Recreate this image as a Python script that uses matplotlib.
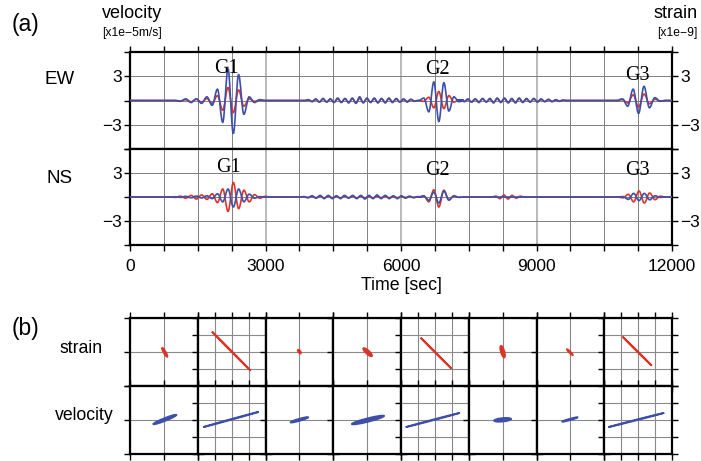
import numpy as np
import matplotlib
matplotlib.use('Agg')
import matplotlib.pyplot as plt
from matplotlib.path import Path
from matplotlib.patches import PathPatch, Ellipse
from matplotlib.ticker import MultipleLocator, FixedLocator

# ---------------- data ----------------
time_ticks = [0, 3000, 6000, 9000, 12000]
time_labels = ['0', '3000', '6000', '9000', '12000']
amp_ticks = [-6, -3, 0, 3, 6]
amp_labels = ['', '\u22123', '', '3', '']

# wave packets: (first extremum time [s], half period [s], successive extremum values)
ew_velocity = [
    (1117, 117, [-0.1, 0.2, -0.25, 0.2, -0.35, 0.45, -0.6, 1.4, -2.7, 3.9, -4.1, 3.2, -1.7, 0.45, -0.25, 0.1]),
    (3950, 81, [0.1, -0.15, 0.2, -0.2, 0.25, -0.2, 0.2, -0.25, 0.3, -0.25, 0.25, -0.3, 0.3, -0.35, 0.45,
                -0.3, 0.3, -0.25, 0.3, -0.3, 0.25, -0.3, 0.3, -0.25, 0.25, -0.2, 0.2, -0.2, 0.15, -0.1]),
    (6505, 111, [0.3, -1.4, 2.3, -2.6, 2.2, -1.3, 0.45, -0.15]),
    (7320, 81, [0.1, -0.15, 0.2, -0.2, 0.2, -0.25, 0.25, -0.2, 0.25, -0.3, 0.3, -0.25, 0.3, -0.3, 0.25,
                -0.3, 0.3, -0.25, 0.25, -0.2, 0.25, -0.2, 0.2, -0.15, 0.15, -0.15, 0.1, -0.1, 0.05]),
    (10900, 120, [0.2, -0.7, 1.4, -1.6, 1.75, -0.9, 0.35, -0.1]),
]
ew_strain = [
    (1117, 117, [-0.05, 0.1, -0.15, 0.15, -0.2, 0.25, -0.35, 0.6, -1.2, 1.6, -1.5, 1.3, -0.7, 0.2, -0.1, 0.05]),
    (3950, 81, [0.05, -0.1, 0.1, -0.15, 0.15, -0.15, 0.15, -0.2, 0.2, -0.2, 0.2, -0.2, 0.2, -0.25, 0.25,
                -0.2, 0.2, -0.2, 0.2, -0.2, 0.2, -0.2, 0.2, -0.15, 0.15, -0.15, 0.1, -0.1, 0.1, -0.05]),
    (6505, 111, [-0.1, 0.4, -0.9, 1.1, -1.0, 0.6, -0.2, 0.05]),
    (7320, 81, [0.05, -0.1, 0.1, -0.15, 0.15, -0.15, 0.2, -0.15, 0.15, -0.2, 0.2, -0.15, 0.2, -0.2, 0.15,
                -0.2, 0.2, -0.15, 0.15, -0.15, 0.15, -0.1, 0.1, -0.1, 0.1, -0.1, 0.05, -0.05, 0.03]),
    (10900, 120, [0.1, -0.3, 0.7, -0.8, 0.8, -0.4, 0.15, -0.05]),
]
ns_velocity = [
    (1001, 117, [0.03, -0.05, 0.08, -0.1, 0.12, -0.12, 0.15, -0.2, 0.4, -0.6, 1.0, -1.25, 1.0, -0.6, 0.35,
                 -0.15, 0.05, -0.02]),
    (3850, 90, [0.05, -0.1, 0.15, -0.15, 0.2, -0.2, 0.2, -0.2, 0.15, -0.2, 0.2, -0.15, 0.2, -0.2, 0.2,
                -0.25, 0.2, -0.2, 0.25, -0.2, 0.2, -0.2, 0.15, -0.2, 0.15, -0.15, 0.1, -0.1, 0.05]),
    (6505, 111, [0.1, -0.4, 0.6, -0.75, 0.75, -0.35, 0.1, -0.03]),
    (10915, 118, [0.05, -0.3, 0.45, -0.45, 0.45, -0.35, 0.15, -0.05]),
]
ns_strain = [
    (1001, 117, [-0.05, 0.1, -0.15, 0.2, -0.25, 0.25, -0.3, 0.4, -0.7, 1.0, -1.8, 1.8, -1.45, 0.85, -0.6,
                 0.3, -0.15, 0.08]),
    (3850, 90, [0.03, -0.05, 0.05, -0.08, 0.08, -0.1, 0.1, -0.08, 0.08, -0.1, 0.1, -0.08, 0.1, -0.1, 0.1,
                -0.1, 0.08, -0.1, 0.1, -0.08, 0.08, -0.08, 0.05, -0.08, 0.05, -0.05, 0.05, -0.03, 0.02]),
    (6505, 111, [0.15, -0.6, 0.9, -1.25, 0.85, -0.4, 0.15, -0.05]),
    (8100, 90, [0.1, -0.2, 0.25, -0.25, 0.2, -0.15, 0.1]),
    (10915, 118, [-0.1, 0.33, -0.6, 0.75, -0.75, 0.5, -0.33, 0.1]),
]

# phase labels: (name, time, amplitude)
ew_phase_labels = [('G1', 2125, 3.95), ('G2', 6800, 3.85), ('G3', 11240, 3.15)]
ns_phase_labels = [('G1', 2190, 3.7), ('G2', 6810, 3.3), ('G3', 11240, 3.3)]

# particle motions (b): major axis end points (x0, y0, x1, y1) and half-width
strain_pm = [
    (-0.05, 0.12, 0.10, -0.14, 0.03),
    (-0.58, 0.60, 0.56, -0.55, 0.01),
    (-0.04, 0.06, 0.04, -0.04, 0.03),
    (-0.11, 0.11, 0.14, -0.12, 0.05),
    (-0.42, 0.42, 0.49, -0.49, 0.01),
    (-0.05, 0.18, 0.05, -0.16, 0.05),
    (-0.10, 0.08, 0.07, -0.09, 0.02),
    (-0.46, 0.45, 0.40, -0.40, 0.01),
]
velocity_pm = [
    (-0.31, -0.12, 0.37, 0.15, 0.04),
    (-0.84, -0.21, 0.80, 0.24, 0.01),
    (-0.26, -0.07, 0.26, 0.08, 0.03),
    (-0.45, -0.12, 0.50, 0.12, 0.05),
    (-0.86, -0.21, 0.74, 0.21, 0.01),
    (-0.25, -0.02, 0.25, 0.03, 0.05),
    (-0.25, -0.05, 0.22, 0.08, 0.02),
    (-0.88, -0.21, 0.77, 0.21, 0.01),
]

# ---------------- style ----------------
RED = '#dc3527'
BLUE = '#3d4faa'
SANS = 'Liberation Sans'
SERIF = 'Liberation Serif'
W, H = 701, 461

plt.rcParams['font.family'] = [SANS, 'DejaVu Sans']

fig = plt.figure(figsize=(W / 100, H / 100), dpi=100)


def rect(x0, y0, x1, y1):
    return [x0 / W, 1 - y1 / H, (x1 - x0) / W, (y1 - y0) / H]


def trace_path(packets, t0=0, t1=12000):
    knots = [(t0, 0.0)]
    for start, hp, vals in packets:
        knots.append((start - hp, 0.0))
        for i, v in enumerate(vals):
            knots.append((start + i * hp, v))
        knots.append((start + len(vals) * hp, 0.0))
    knots.append((t1, 0.0))
    verts = [knots[0]]
    codes = [Path.MOVETO]
    for (xa, ya), (xb, yb) in zip(knots[:-1], knots[1:]):
        d = (xb - xa) * 0.36
        verts += [(xa + d, ya), (xb - d, yb), (xb, yb)]
        codes += [Path.CURVE4] * 3
    return Path(verts, codes)


def setup_wave_axes(ax, top, bottom):
    ax.set_xlim(0, 12000)
    ax.set_ylim(-6, 6)
    ax.xaxis.set_major_locator(FixedLocator(time_ticks))
    ax.xaxis.set_minor_locator(MultipleLocator(750))
    ax.set_yticks(amp_ticks)
    ax.set_yticklabels(amp_labels)
    ax.xaxis.grid(True, which='major', color='#b4b4b4', lw=1.3)
    ax.xaxis.grid(True, which='minor', color='#6e6e6e', lw=0.6)
    ax.yaxis.grid(True, which='major', color='#808080', lw=0.7)
    ax.set_axisbelow(True)
    ax.tick_params(axis='x', which='both', direction='out', length=4, width=1.0,
                   top=top, bottom=bottom, labelbottom=bottom, labelsize=12.5, pad=6)
    ax.tick_params(axis='y', direction='out', length=4, width=1.0, left=True, right=True,
                   labelleft=True, labelright=True, labelsize=12.5, pad=2)
    for s in ax.spines.values():
        s.set_linewidth(1.6)
    if bottom:
        ax.set_xticklabels(time_labels)


ax_ew = fig.add_axes(rect(130, 52, 672, 149))
ax_ns = fig.add_axes(rect(130, 149, 672, 245))
setup_wave_axes(ax_ew, True, False)
setup_wave_axes(ax_ns, False, True)

for ax, s_pk, v_pk, labels in [(ax_ew, ew_strain, ew_velocity, ew_phase_labels),
                               (ax_ns, ns_strain, ns_velocity, ns_phase_labels)]:
    ax.add_patch(PathPatch(trace_path(s_pk), fill=False, edgecolor=RED, lw=1.2, zorder=3))
    ax.add_patch(PathPatch(trace_path(v_pk), fill=False, edgecolor=BLUE, lw=1.2, zorder=4))
    for name, t, a in labels:
        ax.text(t, a, name, family=SERIF, fontsize=14.5, ha='center', va='center', zorder=5)

# text of panel (a)
def ftext(px, py, s, **kw):
    fig.text(px / W, 1 - py / H, s, **kw)

ftext(12, 25, '(a)', fontsize=16.5, va='center', ha='left')
ftext(102, 14, 'velocity', fontsize=13, va='center', ha='left')
ftext(102, 33, '[x1e\u22125m/s]', fontsize=8.7, va='center', ha='left')
ftext(698, 14, 'strain', fontsize=13, va='center', ha='right')
ftext(698, 33, '[x1e\u22129]', fontsize=8.7, va='center', ha='right')
ftext(45, 80, 'EW', fontsize=13.5, va='center', ha='left')
ftext(46, 178, 'NS', fontsize=13.5, va='center', ha='left')
ftext(401, 285, 'Time [sec]', fontsize=12.8, va='center', ha='center')

# ---------------- panel (b) ----------------
col_edges = np.linspace(130, 672, 9)
row_edges = [318, 386, 454]
fine_cols = [1, 4, 7]

for r, (pm, color) in enumerate([(strain_pm, RED), (velocity_pm, BLUE)]):
    for c in range(8):
        ax = fig.add_axes(rect(col_edges[c], row_edges[r], col_edges[c + 1], row_edges[r + 1]))
        ax.set_xlim(-1, 1)
        ax.set_ylim(-1, 1)
        ticks = [-1, -0.5, 0, 0.5, 1] if c in fine_cols else [-1, 0, 1]
        ax.set_xticks(ticks)
        ax.set_yticks(ticks)
        ax.grid(True, color='#8a8a8a', lw=0.8)
        ax.set_axisbelow(True)
        ax.tick_params(direction='out', length=4, width=1.0, top=True, bottom=True,
                       left=True, right=True, labelleft=False, labelbottom=False)
        for s in ax.spines.values():
            s.set_linewidth(1.6)
        x0, y0, x1, y1, hw = pm[c]
        length = np.hypot(x1 - x0, y1 - y0)
        ang = np.degrees(np.arctan2(y1 - y0, x1 - x0))
        ax.add_patch(Ellipse(((x0 + x1) / 2, (y0 + y1) / 2), length, 2 * hw, angle=ang,
                             facecolor=color, edgecolor=color, lw=1.3, zorder=3))

ftext(12, 328, '(b)', fontsize=16.5, va='center', ha='left')
ftext(60, 348, 'strain', fontsize=12.7, va='center', ha='left')
ftext(55, 415, 'velocity', fontsize=12.7, va='center', ha='left')

fig.savefig('out.png', dpi=100)
